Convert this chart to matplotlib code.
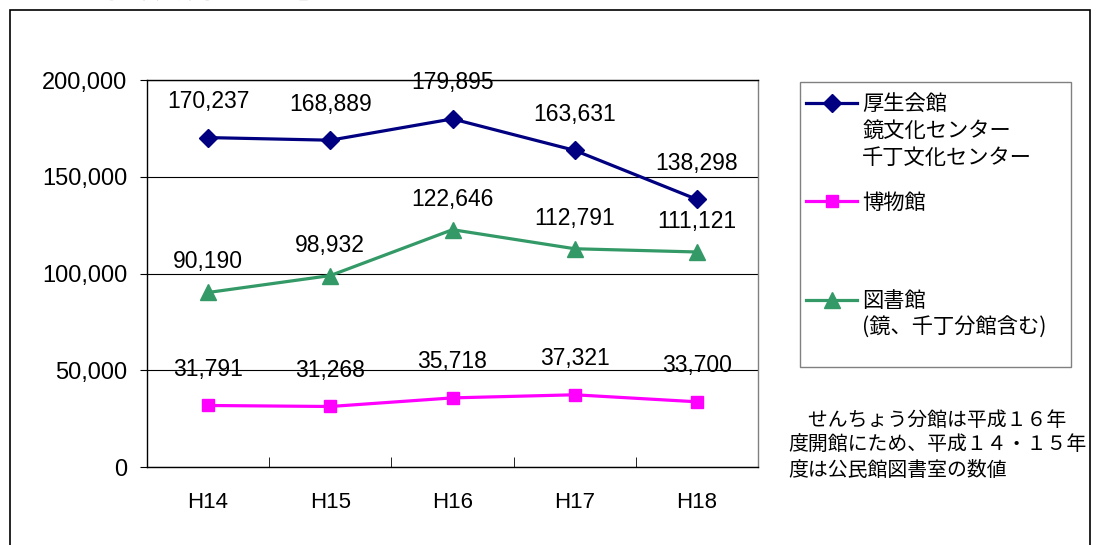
import matplotlib
matplotlib.use("Agg")
import matplotlib.pyplot as plt
from matplotlib.patches import Rectangle
from matplotlib.ticker import FuncFormatter, FixedLocator

plt.rcParams['font.family'] = ['Liberation Sans', 'Noto Sans CJK JP', 'DejaVu Sans']

years = ["H14", "H15", "H16", "H17", "H18"]
kousei = [170237, 168889, 179895, 163631, 138298]
hakubutsu = [31791, 31268, 35718, 37321, 33700]
tosho = [90190, 98932, 122646, 112791, 111121]

lab_kousei = ["厚生会館", "鏡文化センター", "千丁文化センター"]
lab_haku = ["博物館"]
lab_tosho = ["図書館", "(鏡、千丁分館含む)"]
note = "　せんちょう分館は平成１６年\n度開館にため、平成１４・１５年\n度は公民館図書室の数値"
title = "【文化施設利用者推移】"

JP = ['Noto Sans CJK JP', 'DejaVu Sans']
W, H = 1097, 545

fig = plt.figure(figsize=(W / 100, H / 100), dpi=100)
# outer frame of the sheet (bottom runs off the picture)
fig.patches.append(Rectangle((10 / W, -0.05), 1080 / W, 1 - 10 / H + 0.05,
                             transform=fig.transFigure, fill=False,
                             edgecolor="black", linewidth=1.2))
fig.text(22 / W, 1 - 6 / H, title, family=JP, fontsize=20, va="bottom")

ax = fig.add_axes([147 / W, 1 - 467 / H, 611 / W, 387 / H])
x = range(len(years))

series = [
    (kousei, "#000080", "D", 9, lab_kousei, 26),
    (hakubutsu, "#FF00FF", "s", 9, lab_haku, 26),
    (tosho, "#339966", "^", 11, lab_tosho, 22),
]
handles = []
for vals, col, mk, ms, lab, off in series:
    h, = ax.plot(x, vals, color=col, lw=2.3, marker=mk, markersize=ms,
                 markeredgecolor=col, zorder=3)
    handles.append(h)
    for xi, v in zip(x, vals):
        ax.annotate(f"{v:,}", (xi, v), xytext=(0, off), textcoords="offset points",
                    ha="center", va="center", fontsize=16.5, zorder=4)

ax.set_xlim(-0.5, len(years) - 0.5)
ax.set_ylim(0, 200000)
ax.set_yticks([0, 50000, 100000, 150000, 200000])
ax.yaxis.set_major_formatter(FuncFormatter(lambda v, p: f"{int(v):,}"))
ax.tick_params(axis="y", labelsize=17, length=5, pad=9, direction="out")
ax.set_xticks(list(x))
ax.set_xticklabels(years)
ax.tick_params(axis="x", which="major", labelsize=16, length=0, pad=18)
ax.xaxis.set_minor_locator(FixedLocator([i + 0.5 for i in range(len(years) - 1)]))
ax.tick_params(axis="x", which="minor", length=7, direction="in", color="black")
ax.grid(axis="y", color="black", lw=0.8)
ax.set_axisbelow(True)
for s in ax.spines.values():
    s.set_color("black")
    s.set_linewidth(1.0)
ax.spines["right"].set_color("#808080")

# legend: first line of each label with its handle, further lines as plain text
leg = fig.legend(handles=handles, labels=[l[0] for _, _, _, _, l, _ in series],
                 loc="upper left", bbox_to_anchor=(806 / W, 1 - 93 / H),
                 prop={"family": JP, "size": 15.3}, frameon=False,
                 handlelength=2.4, handletextpad=0.25, labelspacing=3.6,
                 borderpad=0, borderaxespad=0)
fig.patches.append(Rectangle((800 / W, 1 - 367 / H), 271 / W, 285 / H,
                             transform=fig.transFigure, fill=False,
                             edgecolor="#808080", linewidth=1.0))
fig.canvas.draw()
inv = fig.transFigure.inverted()
for txt, (_, _, _, _, lab, _) in zip(leg.get_texts(), series):
    bb = txt.get_window_extent()
    x0, y0 = inv.transform((bb.x0, bb.y0))
    for k, line in enumerate(lab[1:], start=1):
        fig.text(x0, y0 - k * 27 / H, line, family=JP, fontsize=15.3, va="bottom")

fig.text(788 / W, 1 - 410 / H, note, family=JP, fontsize=14.3, va="top",
         linespacing=1.25)

fig.savefig("out.png", dpi=100)
